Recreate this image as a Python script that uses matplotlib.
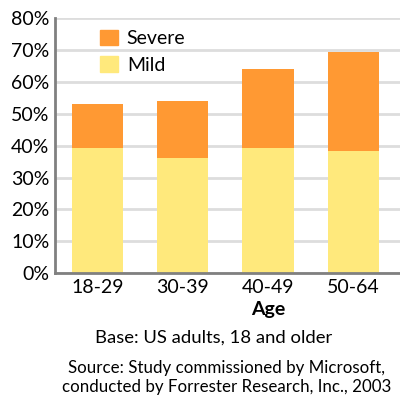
import matplotlib
matplotlib.use("Agg")
import matplotlib.pyplot as plt
from matplotlib.patches import Patch

plt.rcParams['font.family'] = ['Lato', 'DejaVu Sans']

# Donnees
ages = ["18-29", "30-39", "40-49", "50-64"]
mild = [39.4, 36.2, 39.4, 38.2]
severe = [13.7, 17.7, 24.6, 31.2]
yticks = [0, 10, 20, 30, 40, 50, 60, 70, 80]

c_mild = "#FFE97C"
c_severe = "#FF9933"

fig = plt.figure(figsize=(4.0, 4.04), dpi=100)
ax = fig.add_axes([0.1375, 0.3235, 0.8625, 0.632])

x = list(range(len(ages)))
ax.bar(x, mild, width=0.6, color=c_mild, zorder=2)
ax.bar(x, severe, width=0.6, bottom=mild, color=c_severe, zorder=2)

ax.set_xlim(-0.5, 3.55)
ax.set_ylim(0, 80)
ax.set_yticks(yticks)
ax.set_yticklabels([f"{v}%" for v in yticks], fontsize=14)
ax.set_xticks(x)
ax.set_xticklabels(ages, fontsize=14)
ax.tick_params(length=0, pad=4)
ax.tick_params(axis='x', pad=4)
ax.grid(axis='y', color="#DDDDDD", linewidth=2, zorder=0)

for side in ["top", "right"]:
    ax.spines[side].set_visible(False)
for side in ["left", "bottom"]:
    ax.spines[side].set_color("#808080")
    ax.spines[side].set_linewidth(2)

handles = [Patch(color=c_severe, label="Severe"), Patch(color=c_mild, label="Mild")]
ax.legend(handles=handles, loc="upper left", bbox_to_anchor=(0.091, 1.008),
          frameon=False, fontsize=14, handlelength=0.93, handleheight=0.875,
          handletextpad=0.45, labelspacing=0.45, borderaxespad=0.3)

fig.text(0.67, 1 - 309 / 404, "Age", ha="center", va="center",
         fontsize=14, fontweight="bold")
fig.text(0.533, 1 - 338 / 404, "Base: US adults, 18 and older",
         ha="center", va="center", fontsize=13.3)
fig.text(0.5675, 1 - 368 / 404, "Source: Study commissioned by Microsoft,",
         ha="center", va="center", fontsize=12.2)
fig.text(0.5675, 1 - 387 / 404, "conducted by Forrester Research, Inc., 2003",
         ha="center", va="center", fontsize=12.2)

fig.savefig("out.png", dpi=100)
